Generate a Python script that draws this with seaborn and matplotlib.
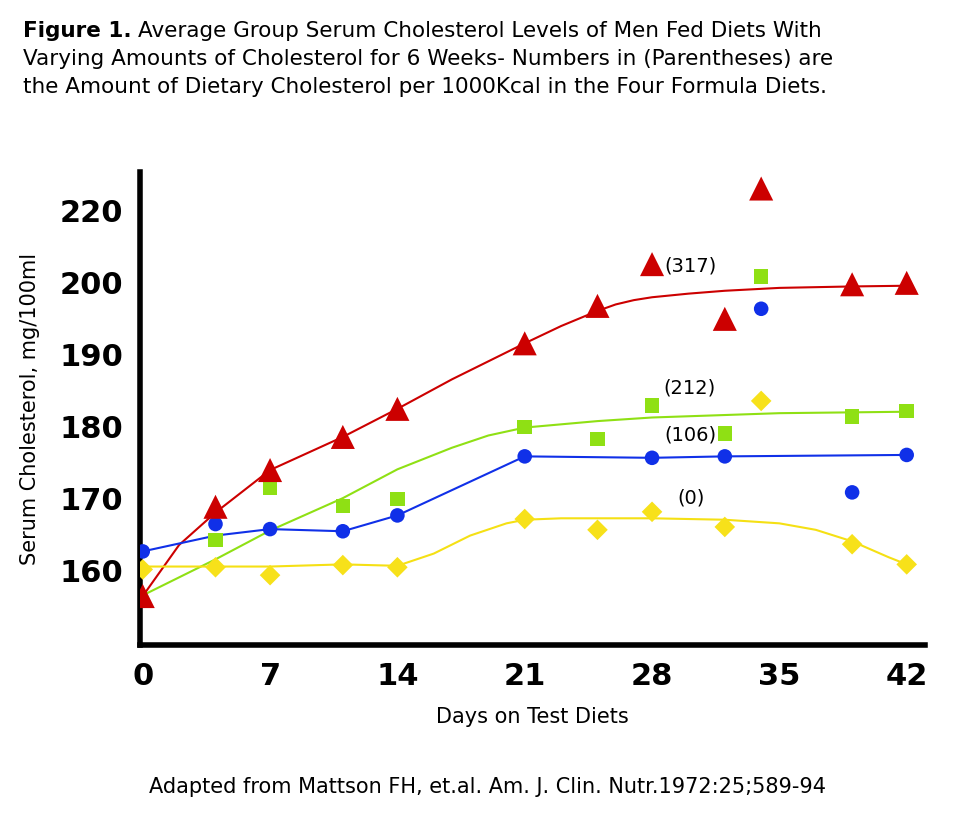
import matplotlib
matplotlib.use("Agg")
import matplotlib.pyplot as plt
import seaborn as sns

days = [0, 4, 7, 11, 14, 21, 25, 28, 32, 34, 39, 42]
red_317 = [156.4, 168.8, 173.9, 178.5, 182.4, 191.5, 196.7, 202.5, 194.9, 213.0, 199.7, 199.9]
green_days = [4, 7, 11, 14, 21, 25, 28, 32, 34, 39, 42]
green_212 = [164.2, 171.5, 168.9, 169.9, 179.9, 178.2, 182.9, 179.0, 200.8, 181.3, 182.1]
blue_days = [0, 4, 7, 11, 14, 21, 28, 32, 34, 39, 42]
blue_106 = [162.6, 166.4, 165.7, 165.4, 167.6, 175.8, 175.6, 175.8, 196.3, 170.8, 176.0]
yellow_0 = [160.1, 160.4, 159.3, 160.7, 160.4, 167.1, 165.6, 168.1, 166.0, 183.5, 163.6, 160.8]

red_fit_d = [0, 2, 4, 7, 11, 14, 17, 21, 23, 25, 26, 27, 28, 30, 32, 35, 39, 42]
red_fit = [156.4, 163.5, 168.0, 173.9, 178.5, 182.4, 186.5, 191.5, 193.9, 196.0, 196.9, 197.5, 197.9, 198.4, 198.8, 199.2, 199.4, 199.5]
green_fit_d = [0, 4, 7, 11, 14, 17, 19, 21, 25, 28, 35, 42]
green_fit = [156.5, 161.5, 165.5, 170.0, 174.0, 177.0, 178.7, 179.8, 180.7, 181.2, 181.8, 182.0]
blue_fit_d = [0, 4, 7, 11, 14, 21, 28, 32, 42]
blue_fit = [162.6, 164.8, 165.7, 165.4, 167.6, 175.8, 175.6, 175.8, 176.0]
yellow_fit_d = [0, 7, 11, 14, 16, 18, 20, 21, 23, 25, 28, 32, 35, 37, 39, 41, 42]
yellow_fit = [160.5, 160.5, 160.8, 160.6, 162.3, 164.8, 166.5, 167.0, 167.2, 167.2, 167.2, 167.0, 166.5, 165.6, 164.0, 161.8, 160.8]

yticks = [160, 170, 180, 190, 200, 210]
ytick_labels = ["160", "170", "180", "190", "200", "220"]
xticks = [0, 7, 14, 21, 28, 35, 42]

RED, GREEN, BLUE, YEL = "#cc0000", "#8fe014", "#1030e8", "#f5e014"

sns.set_style("white")
plt.rcParams['font.family'] = ['DejaVu Sans']
plt.rcParams['text.color'] = 'black'
plt.rcParams['axes.labelcolor'] = 'black'
plt.rcParams['xtick.color'] = 'black'
plt.rcParams['ytick.color'] = 'black'
fig = plt.figure(figsize=(9.75, 8.22), dpi=100)
ax = fig.add_axes([0.1436, 0.2153, 0.805, 0.5755])

sns.lineplot(x=red_fit_d, y=red_fit, color=RED, lw=1.5, ax=ax)
sns.lineplot(x=green_fit_d, y=green_fit, color=GREEN, lw=1.5, ax=ax)
sns.lineplot(x=blue_fit_d, y=blue_fit, color=BLUE, lw=1.5, ax=ax)
sns.lineplot(x=yellow_fit_d, y=yellow_fit, color=YEL, lw=1.5, ax=ax)

sns.scatterplot(x=days, y=yellow_0, marker="D", s=110, color="#f7e11a", edgecolor="none", ax=ax, zorder=5)
sns.scatterplot(x=blue_days, y=blue_106, marker="o", s=110, color=BLUE, edgecolor="none", ax=ax, zorder=5)
sns.scatterplot(x=green_days, y=green_212, marker="s", s=110, color=GREEN, edgecolor="none", ax=ax, zorder=5)
sns.scatterplot(x=days, y=red_317, marker="^", s=300, color=RED, edgecolor="none", ax=ax, zorder=6)

for lbl, (xx, yy) in {"(317)": (28.7, 202.2), "(212)": (28.6, 185.3), "(106)": (28.7, 178.8), "(0)": (29.4, 170)}.items():
    ax.text(xx, yy, lbl, fontsize=14, va="center", ha="left", color="black")

ax.set_xlim(-0.15, 43)
ax.set_ylim(149.6, 215.3)
ax.set_xticks(xticks)
ax.set_xticklabels([str(t) for t in xticks], fontsize=22, fontweight="heavy")
ax.set_yticks(yticks)
ax.set_yticklabels(ytick_labels, fontsize=22, fontweight="heavy")
ax.tick_params(length=0, pad=12)
for s in ["top", "right"]:
    ax.spines[s].set_visible(False)
for s in ["left", "bottom"]:
    ax.spines[s].set_color("black")
    ax.spines[s].set_linewidth(4)
ax.set_xlabel("Days on Test Diets", fontsize=15, labelpad=12)
ax.set_ylabel("Serum Cholesterol, mg/100ml", fontsize=15, labelpad=14)

fig.canvas.draw()
t = fig.text(0.024, 0.962, "Figure 1.", fontsize=15.5, fontweight="bold", va="center")
bb = t.get_window_extent(fig.canvas.get_renderer())
fig.text(bb.x1 / fig.bbox.width + 0.006, 0.962,
         "Average Group Serum Cholesterol Levels of Men Fed Diets With", fontsize=15.5, va="center")
fig.text(0.024, 0.928, "Varying Amounts of Cholesterol for 6 Weeks- Numbers in (Parentheses) are", fontsize=15.5, va="center")
fig.text(0.024, 0.894, "the Amount of Dietary Cholesterol per 1000Kcal in the Four Formula Diets.", fontsize=15.5, va="center")
fig.text(0.5, 0.042, "Adapted from Mattson FH, et.al. Am. J. Clin. Nutr.1972:25;589-94", fontsize=15, ha="center", va="center")

fig.savefig("out.png", dpi=100)
